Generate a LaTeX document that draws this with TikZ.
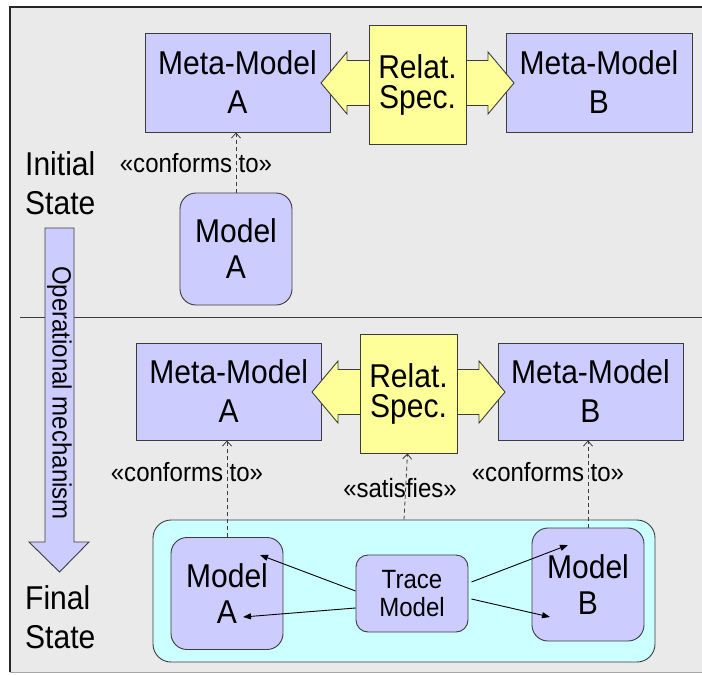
\documentclass[tikz,border=0pt]{standalone}
\usepackage{fontspec}
\setmainfont[FakeStretch=0.91]{Liberation Sans}
\usetikzlibrary{arrows.meta,calc}
\definecolor{bgray}{RGB}{234,234,234}
\definecolor{lav}{RGB}{204,204,255}
\definecolor{relyellow}{RGB}{255,255,153}
\definecolor{tracecyan}{RGB}{204,255,255}
\definecolor{edge}{RGB}{60,60,60}
\tikzset{
  mmbox/.style={draw=edge, fill=lav, line width=0.9pt, inner sep=0pt, align=center,
    font=\fontsize{33}{39}\selectfont},
  modelbox/.style={mmbox, rounded corners=16pt, font=\fontsize{33}{36}\selectfont},
  tracebox/.style={mmbox, rounded corners=12pt, font=\fontsize{26.4}{28}\selectfont},
  relbox/.style={draw=edge, fill=relyellow, line width=0.9pt, inner sep=0pt, align=center,
    font=\fontsize{33}{30}\selectfont},
  stereo/.style={inner sep=0pt, font=\fontsize{26.4}{28}\selectfont},
  statelbl/.style={inner sep=0pt, anchor=west, align=left, font=\fontsize{33}{39}\selectfont},
  conforms/.style={draw=edge, line width=0.8pt, dash pattern=on 4pt off 3pt,
    -{Straight Barb[length=5pt,width=9pt,line width=0.8pt]}},
  tracelink/.style={draw=black, line width=0.9pt, -{Triangle[length=8pt,width=6pt]}},
  relarrow/.pic={
    \draw[draw=edge, fill=relyellow, line width=0.9pt]
      (-96.5,0) -- (-70.5,-31) -- (-70.5,-22.5) -- (70.5,-22.5) -- (70.5,-31)
      -- (96.5,0) -- (70.5,31) -- (70.5,22.5) -- (-70.5,22.5) -- (-70.5,31) -- cycle;
  }
}
\begin{document}
\begin{tikzpicture}[x=1pt,y=-1pt]
\useasboundingbox (0,0) rectangle (702,675);
% slide frame
\fill[bgray] (10,7) rectangle (702,672);
\draw[black!85, line width=1.1pt] (702,7) -- (10,7) -- (10,672);
\draw[black!35, line width=0.8pt] (10,672) -- (702,672);
% separator between the two states
\draw[edge, line width=1pt] (20,317) -- (702,317);

% ---------------- initial state ----------------
\node[statelbl] (initlbl) at (25,183) {Initial\\State};

\node[mmbox, minimum width=185pt, minimum height=99pt] (mmA1) at (237.5,82.5) {Meta-Model\\A};
\node[mmbox, minimum width=186pt, minimum height=99pt] (mmB1) at (599,82.5) {Meta-Model\\B};
\pic at (417.5,83) {relarrow};
\node[relbox, minimum width=97pt, minimum height=119pt] (rel1) at (417.5,84.5) {Relat.\\Spec.};
\node[modelbox, minimum width=112pt, minimum height=112pt] (mA1) at (236,249) {Model\\A};

\draw[conforms] (mA1.north) -- (mA1.north |- mmA1.south);
\node[stereo] (c1) at (196,163) {«conforms to»};

% operational mechanism arrow
\draw[draw=edge, fill=lav, line width=0.9pt]
  (45,228) -- (74,228) -- (74,542) -- (89,542) -- (59.5,572) -- (29,542) -- (45,542) -- cycle;
\node[rotate=-90, inner sep=0pt, font=\fontsize{26.4}{28}\selectfont] (opmech) at (59.5,393) {Operational mechanism};

% ---------------- final state ----------------
\node[statelbl] (finallbl) at (25,617) {Final\\State};

\node[mmbox, minimum width=184.5pt, minimum height=97pt] (mmA2) at (228.75,391.5) {Meta-Model\\A};
\node[mmbox, minimum width=185pt, minimum height=97pt] (mmB2) at (590.5,391.5) {Meta-Model\\B};
\pic at (408.5,392) {relarrow};
\node[relbox, minimum width=97pt, minimum height=119pt] (rel2) at (408.5,393.5) {Relat.\\Spec.};

\node[draw=edge, fill=tracecyan, line width=0.9pt, rounded corners=18pt,
      minimum width=502pt, minimum height=142pt, inner sep=0pt] (cont) at (404,591) {};
\node[modelbox, minimum width=112pt, minimum height=112pt] (mA2) at (227,593.5) {Model\\A};
\node[modelbox, minimum width=112pt, minimum height=113pt] (mB2) at (588,584.5) {Model\\B};
\node[tracebox, minimum width=112pt, minimum height=77pt] (trace) at (412,593.5) {Trace\\Model};

\draw[conforms] (mA2.north) -- (mA2.north |- mmA2.south);
\draw[conforms] (cont.north) -- ($(rel2.south)+(-1,0)$);
\draw[conforms] (mB2.north) -- (mB2.north |- mmB2.south);
\node[stereo] (c2) at (187,472) {«conforms to»};
\node[stereo] (sat) at (400,488) {«satisfies»};
\node[stereo] (c3) at (548,472) {«conforms to»};

\draw[tracelink] ($(trace.west)+(0,-2.5)$) -- ($(mA2.center)+(33,-38.5)$);
\draw[tracelink] ($(trace.west)+(0,14.5)$) -- ($(mA2.center)+(16,23.5)$);
\draw[tracelink] ($(trace.east)+(3,-11.5)$) -- ($(mB2.center)+(-20,-39.5)$);
\draw[tracelink] ($(trace.east)+(3,5.5)$) -- ($(mB2.center)+(-38,32.5)$);
\end{tikzpicture}
\end{document}
